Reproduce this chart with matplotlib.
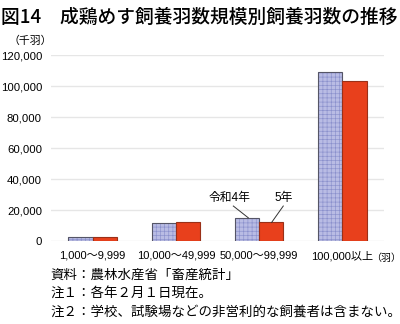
import matplotlib
matplotlib.use("Agg")
import matplotlib.pyplot as plt
import numpy as np

plt.rcParams['font.family'] = ['Noto Sans CJK JP', 'DejaVu Sans']
plt.rcParams['hatch.linewidth'] = 0.45
num_font = ['Liberation Sans', 'Noto Sans CJK JP']

categories = ['1,000～9,999', '10,000～49,999', '50,000～99,999', '100,000以上']
r4 = [2800, 11800, 15000, 109000]   # 令和4年（千羽）
r5 = [2700, 12000, 12000, 103000]   # 5年（千羽）
yticks = [0, 20000, 40000, 60000, 80000, 100000, 120000]

fig = plt.figure(figsize=(4.0, 3.24), dpi=100)
ax = fig.add_axes([0.1275, 0.256, 0.8325, 0.574])

x = np.arange(len(categories))
w = 0.29

# 令和4年: 格子模様
ax.bar(x - w / 2, r4, width=w, color='#b9bce4', edgecolor='#8a90cc',
       hatch='++++', linewidth=0, zorder=3)
ax.bar(x - w / 2, r4, width=w, fill=False, edgecolor='#555566',
       linewidth=0.8, zorder=4)
# 5年
ax.bar(x + w / 2, r5, width=w, color='#e8401c', edgecolor='#9a3018',
       linewidth=0.8, zorder=4)

ax.set_xlim(-0.5, 3.5)
ax.set_ylim(0, 120000)
ax.set_yticks(yticks)
ax.set_yticklabels([f'{v:,}' for v in yticks], fontsize=8.2, family=num_font)
ax.set_xticks(x)
ax.set_xticklabels(categories, fontsize=8, family=num_font)
ax.tick_params(axis='y', length=0, pad=6.5)
ax.tick_params(axis='x', length=0, pad=7)
ax.grid(axis='y', color='#e6e6e6', linewidth=1.0, zorder=0)
for s in ax.spines.values():
    s.set_visible(False)

fig.text(0.928, 0.205, '（羽）', fontsize=7.2, ha='left', va='center')

# 年次の引き出し線
ax.text(1.65, 24000, '令和4年', fontsize=8.5, ha='center', va='bottom',
        family=num_font)
ax.plot([1.69, 1.87], [22600, 15000], color='#333333', lw=0.7, zorder=5)
ax.text(2.29, 24000, '5年', fontsize=8.5, ha='center', va='bottom',
        family=num_font)
ax.plot([2.29, 2.15], [22600, 12000], color='#333333', lw=0.7, zorder=5)

fig.text(0.002, 0.975, '図14　成鶏めす飼養羽数規模別飼養羽数の推移',
         fontsize=13.5, fontweight='medium', ha='left', va='top')
fig.text(0.02, 0.875, '（千羽）', fontsize=7.8, ha='left', va='center')

notes = ['資料：農林水産省「畜産統計」',
         '注１：各年２月１日現在。',
         '注２：学校、試験場などの非営利的な飼養者は含まない。']
for i, t in enumerate(notes):
    fig.text(0.125, 0.152 - i * 0.057, t, fontsize=9.7, ha='left', va='center')

fig.savefig('out.png', dpi=100)
